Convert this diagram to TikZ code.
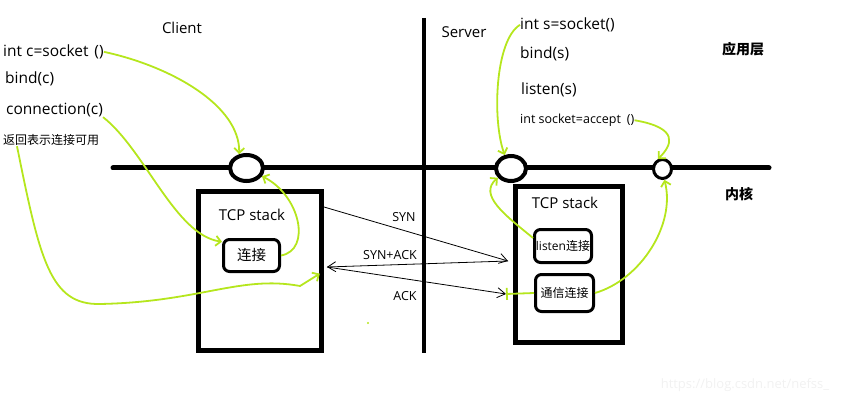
\documentclass[tikz,border=0pt]{standalone}
\usepackage{fontspec}
\setmainfont{Open Sans}
\newfontfamily\cjk{Noto Sans CJK SC}
\usetikzlibrary{arrows.meta,shapes.geometric}
\definecolor{callgreen}{RGB}{181,230,29}
\definecolor{wmgray}{RGB}{241,241,241}

\begin{document}
\begin{tikzpicture}[x=1pt,y=-1pt,
        heading/.style={anchor=base,inner sep=0pt,font=\fontsize{15}{18}\selectfont},
        code/.style={anchor=base west,inner sep=0pt,font=\fontsize{15.5}{18}\selectfont},
        layer/.style={anchor=base,inner sep=0pt,font=\cjk\bfseries\fontsize{14}{16}\selectfont},
        stack/.style={draw,line width=5pt,inner sep=0pt},
        conn/.style={draw,line width=3pt,rounded corners=6pt,inner sep=0pt,font=\cjk\fontsize{12}{14}\selectfont},
        sock/.style={draw,fill=white,ellipse,line width=4pt,inner sep=0pt},
        pkt/.style={anchor=base,inner sep=0pt,font=\fontsize{12.5}{15}\selectfont},
        call/.style={draw=callgreen,line width=1.8pt,-{Straight Barb[length=5pt,width=10pt]}},
        msg/.style={draw,line width=0.8pt,-{Straight Barb[length=8pt,width=10pt]}}]
    \useasboundingbox (0,0) rectangle (849,401);

    % draw kernel line and the split
    \draw[line width=5pt,line cap=round] (113,168) -- (769,168);
    \draw[line width=4.5pt] (424,18) -- (424,353);

    % sockets on the kernel line
    \node[sock,minimum width=33pt,minimum height=26pt] (csock) at (246.5,168) {};
    \node[sock,minimum width=30pt,minimum height=25pt] (ssock) at (511,168.5) {};
    \node[sock,line width=3pt,minimum width=18pt,minimum height=19pt] (tsock) at (662.5,169) {};

    % tcp stacks
    \node[stack,minimum width=123pt,minimum height=159pt] (cbox) at (260,271) {};
    \node[stack,minimum width=107pt,minimum height=156pt] (sbox) at (569,264.5) {};
    \node[heading] (ctcp) at (252,220) {TCP stack};
    \node[heading] (stcp) at (565,208) {TCP stack};
    \node[conn,font=\cjk\fontsize{14.5}{16}\selectfont,minimum width=56pt,minimum height=32pt] (cin) at (251.5,255.5) {连接};
    \node[conn,minimum width=57pt,minimum height=33pt] (lbox) at (563,246) {\rmfamily listen\cjk 连接};
    \node[conn,minimum width=58pt,minimum height=37pt] (tbox) at (564.5,293) {通信连接};

    % place the calls
    \node[heading] (client) at (182,34) {Client};
    \node[heading] (server) at (464,38) {Server};
    \node[code] (csocket) at (3,56.5) {int c=socket\hspace{6pt}()};
    \node[code] (cbind) at (5,83.5) {bind(c)};
    \node[code] (cconn) at (6,114.5) {connection(c)};
    \node[code,font=\cjk\fontsize{12}{14}\selectfont] (cret) at (3,145) {返回表示连接可用};
    \node[code] (ssocket) at (520,29.5) {int s=socket()};
    \node[code] (sbind) at (520,58.5) {bind(s)};
    \node[code] (slisten) at (521,94.5) {listen(s)};
    \node[code,font=\fontsize{12.5}{15}\selectfont] (saccept) at (520,123.5) {int socket=accept\hspace{6pt}()};
    \node[layer] (app) at (743,54.5) {应用层};
    \node[layer] (kern) at (739,199) {内核};

    % handshake
    \coordinate (synout) at (324,207);
    \coordinate (synin) at (508,261);
    \coordinate (ackout) at (327,267);
    \coordinate (ackin) at (506,294);
    \draw[msg] (synout) -- (synin);
    \draw[msg] (synin) -- (ackout);
    \draw[msg] (ackout) -- (ackin);
    \node[pkt] (syn) at (404,222) {SYN};
    \node[pkt] (synack) at (390,259) {SYN+ACK};
    \node[pkt] (ack) at (405,300.5) {ACK};

    % green call arrows
    \draw[call] (csocket.east) .. controls (170,66) and (240,105) .. (csock.118);
    \draw[call] (cconn.south east) .. controls (145,150) and (175,235) .. (cin.155);
    \draw[call] (cin.east) .. controls (312,250) and (300,195) .. (csock.-28);
    \draw[call,shorten >=5pt] ([xshift=14pt]cret.south west) .. controls (40,260) and (50,305) .. (100,304)
        .. controls (200,302) and (240,275) .. (300,286) -- (cbox.east);
    \draw[call] (ssocket.west) .. controls (495,40) and (492,120) .. (ssock.115);
    \draw[call] (lbox.165) .. controls (505,215) and (478,195) .. (ssock.-145);
    \draw[call] (saccept.east) .. controls (680,128) and (672,145) .. (tsock.115);
    \draw[call] (tbox.east) .. controls (640,280) and (676,225) .. (tsock.-80);
    \draw[callgreen,line width=1.8pt,-{Bar[width=12pt]}] (tbox.west) -- (ackin);
    \fill[callgreen] (368,323) circle (1.2pt);

    % watermark
    \node[anchor=base,inner sep=0pt,text=wmgray,font=\fontsize{13}{15}\selectfont] (wm) at (745,388) {https://blog.csdn.net/nefss\_};
\end{tikzpicture}
\end{document}
